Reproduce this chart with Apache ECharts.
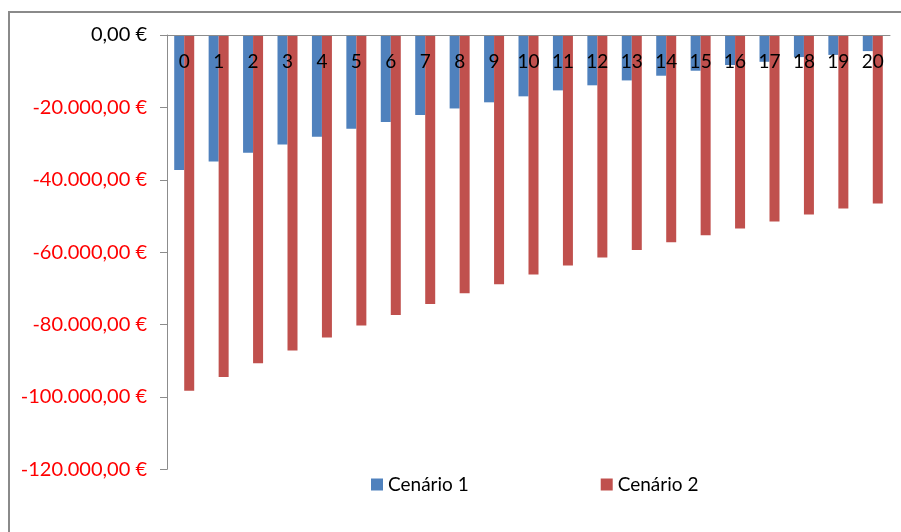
<!DOCTYPE html>
<html>
<head>
<meta charset="utf-8">
<title>Cenários</title>
<script src="https://cdn.jsdelivr.net/npm/echarts@6/dist/echarts.min.js"></script>
<style>
  html, body { margin: 0; padding: 0; background: #fff; }
  #chart { width: 901px; height: 532px; }
</style>
</head>
<body>
<div id="chart"></div>
<script>
// Years of the projection
const categories = ['0','1','2','3','4','5','6','7','8','9','10','11','12','13','14','15','16','17','18','19','20'];

// Accumulated balance per scenario (EUR)
const cenario1 = [-37300, -34950, -32550, -30250, -28100, -25900, -24050, -22100, -20300, -18600,
                  -16950, -15300, -13900, -12550, -11250, -9870, -8300, -7400, -6100, -5500, -4450];
const cenario2 = [-98300, -94500, -90700, -87200, -83600, -80300, -77350, -74300, -71350, -68850,
                  -66200, -63700, -61500, -59400, -57250, -55300, -53450, -51550, -49600, -47950, -46550];

// Value axis range
const yMin = -120000;
const yMax = 0;
const yStep = 20000;

const seriesNames = ['Cenário 1', 'Cenário 2'];

const FONT = 'Lato';
const AXIS_GREY = '#8c8c8c';

function euro(v) {
  const neg = v < 0;
  const abs = Math.abs(v);
  const int = Math.floor(abs).toString().replace(/\B(?=(\d{3})+(?!\d))/g, '.');
  return (neg ? '-' : '') + int + ',00 €';
}

const chart = echarts.init(document.getElementById('chart'), null, { renderer: 'canvas' });

chart.setOption({
  backgroundColor: '#ffffff',
  animation: false,
  textStyle: { fontFamily: FONT },
  graphic: [{
    type: 'rect',
    shape: { x: 9, y: 12, width: 920, height: 600 },
    style: { fill: 'none', stroke: '#8a8a8a', lineWidth: 2 },
    silent: true,
    z: -1
  }],
  legend: {
    data: seriesNames,
    left: 366,
    top: 470,
    itemWidth: 12,
    itemHeight: 12,
    itemGap: 132,
    icon: 'rect',
    textStyle: { fontFamily: FONT, fontSize: 19, color: '#000' }
  },
  grid: {
    left: 167,
    right: 11,
    top: 35,
    bottom: 62.7,
    containLabel: false
  },
  xAxis: {
    type: 'category',
    data: categories,
    position: 'top',
    z: 5,
    axisLine: { onZero: false, lineStyle: { color: AXIS_GREY, width: 1 } },
    axisTick: { inside: true, length: 5, lineStyle: { color: AXIS_GREY } },
    axisLabel: {
      inside: true,
      margin: 27,
      verticalAlign: 'middle',
      interval: 0,
      fontFamily: FONT,
      fontSize: 19,
      color: '#000'
    },
    splitLine: { show: false }
  },
  yAxis: {
    type: 'value',
    min: yMin,
    max: yMax,
    interval: yStep,
    axisLine: { show: true, lineStyle: { color: AXIS_GREY, width: 1 } },
    axisTick: { show: true, length: 7, lineStyle: { color: AXIS_GREY } },
    axisLabel: {
      margin: 20,
      fontFamily: FONT,
      fontSize: 20,
      formatter: euro,
      color: function (v) { return Number(v) < 0 ? '#ff0000' : '#000000'; }
    },
    splitLine: { show: false }
  },
  series: [
    {
      name: seriesNames[0],
      type: 'bar',
      data: cenario1,
      barWidth: 10,
      barGap: '0%',
      itemStyle: { color: '#4f81bd' }
    },
    {
      name: seriesNames[1],
      type: 'bar',
      data: cenario2,
      barWidth: 10,
      barGap: '0%',
      itemStyle: { color: '#c0504d' }
    }
  ]
});
</script>
</body>
</html>
